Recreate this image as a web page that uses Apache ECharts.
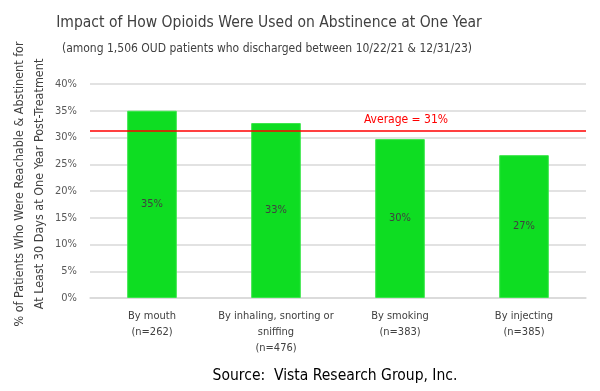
<!DOCTYPE html>
<html>
<head>
<meta charset="utf-8">
<script src="https://cdn.jsdelivr.net/npm/echarts@6/dist/echarts.min.js"></script>
<style>html,body{margin:0;padding:0;background:#fff}#c{width:600px;height:391px}</style>
</head>
<body>
<div id="c"></div>
<script>
var categories = ['By mouth\n(n=262)', 'By inhaling, snorting or\nsniffing\n(n=476)', 'By smoking\n(n=383)', 'By injecting\n(n=385)'];
var values = [35.0, 32.7, 29.7, 26.7];
var averageValue = 31.2;
var averageLabel = 'Average = 31%';
var yTicks = [0, 5, 10, 15, 20, 25, 30, 35, 40];

var FONT = '"Liberation Sans Narrow", "DejaVu Sans Condensed", "Roboto", sans-serif';
var chart = echarts.init(document.getElementById('c'), null, {renderer: 'canvas'});
chart.setOption({
  animation: false,
  textStyle: {fontFamily: FONT},
  title: [
    {text: 'Impact of How Opioids Were Used on Abstinence at One Year', left: 264, top: 10, textAlign: 'center',
     textStyle: {fontFamily: FONT, fontSize: 15.5, fontWeight: 'normal', color: '#404040'}},
    {text: '(among 1,506 OUD patients who discharged between 10/22/21 & 12/31/23)', left: 262, top: 38, textAlign: 'center',
     textStyle: {fontFamily: FONT, fontSize: 12, fontWeight: 'normal', color: '#404040'}},
    {text: 'Source:  Vista Research Group, Inc.', left: 330, top: 363, textAlign: 'center',
     textStyle: {fontFamily: FONT, fontSize: 15.5, fontWeight: 'normal', color: '#000'}}
  ],
  grid: {left: 90, right: 14, top: 84, bottom: 93, containLabel: false, outerBoundsMode: 'none'},
  xAxis: {
    type: 'category', data: categories,
    axisTick: {show: false},
    axisLine: {lineStyle: {color: '#d9d9d9', width: 1.5}},
    axisLabel: {color: '#404040', fontSize: 11, lineHeight: 16, margin: 10, interval: 0, fontFamily: FONT}
  },
  yAxis: {
    type: 'value', min: yTicks[0], max: yTicks[yTicks.length - 1], interval: 5,
    name: '% of Patients Who Were Reachable & Abstinent for\nAt Least 30 Days at One Year Post-Treatment',
    nameLocation: 'middle', nameGap: 40, nameRotate: 90, nameMoveOverlap: false,
    nameTextStyle: {color: '#404040', fontSize: 12.5, lineHeight: 20, fontFamily: FONT, padding: [0, 0, 0, 14]},
    axisLabel: {formatter: '{value}%', color: '#595959', fontSize: 11, margin: 13, fontFamily: FONT},
    splitLine: {lineStyle: {color: '#d9d9d9', width: 1.5}}
  },
  series: [{
    type: 'bar', data: values, barWidth: '40%',
    itemStyle: {color: '#0edd22', borderColor: '#3be64a', borderWidth: 1},
    label: {show: true, position: 'inside', formatter: function (p) { return Math.round(p.value) + '%'; },
            color: '#404040', fontSize: 11, fontFamily: FONT},
    markLine: {
      symbol: 'none', silent: true,
      lineStyle: {color: '#ff0000', width: 1.5, type: 'solid'},
      label: {show: true, position: 'insideMiddleTop', formatter: averageLabel, color: '#ff0000', fontSize: 12, offset: [68, 0], fontFamily: FONT},
      data: [{yAxis: averageValue}]
    }
  }]
});
</script>
</body>
</html>
